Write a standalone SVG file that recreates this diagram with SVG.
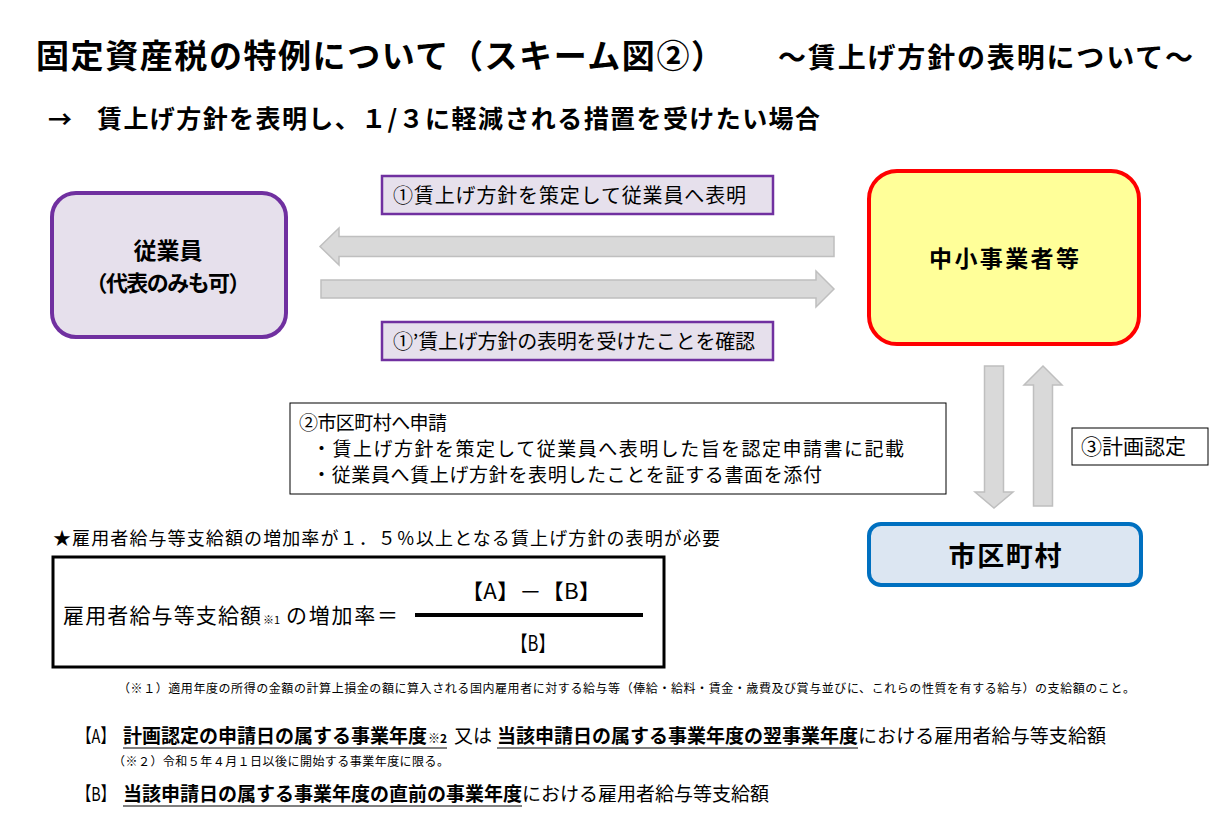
<svg xmlns="http://www.w3.org/2000/svg" width="1231" height="817" viewBox="0 0 1231 817">
<style>
text{font-family:"Noto Sans CJK JP","Noto Sans CJK SC",sans-serif;fill:#000}
.b{font-weight:700}
.arr{fill:#D9D9D9;stroke:#BFBFBF;stroke-width:1.5}
.lbl{fill:#E6E0EC;stroke:#7030A0;stroke-width:2.5}
.ul{stroke:#7F7F7F;stroke-width:2}
</style>
<rect width="1231" height="817" fill="#fff"/>
<g id="title">
<text x="36" y="68" class="b" font-size="33" textLength="688">固定資産税の特例について（スキーム図②）</text>
<text x="778" y="68" class="b" font-size="28" textLength="415">～賃上げ方針の表明について～</text>
<text x="48" y="128" class="b" font-size="24">→</text>
<text x="97" y="128" class="b" font-size="25" textLength="723">賃上げ方針を表明し、１/３に軽減される措置を受けたい場合</text>
</g>
<g id="node-employee">
<rect x="52" y="193" width="234" height="144" rx="24" fill="#E6E0EC" stroke="#7030A0" stroke-width="4"/>
<text x="168" y="259" class="b" font-size="23" text-anchor="middle">従業員</text>
<text x="168" y="291" class="b" font-size="22" text-anchor="middle" textLength="165">（代表のみも可）</text>
</g>
<g id="node-company">
<rect x="869" y="171" width="270" height="173" rx="28" fill="#FFFF99" stroke="#FF0000" stroke-width="4"/>
<text x="1004" y="267" class="b" font-size="23" text-anchor="middle" textLength="150">中小事業者等</text>
</g>
<g id="node-city">
<rect x="869" y="524" width="272" height="61" rx="12" fill="#DCE6F2" stroke="#0070C0" stroke-width="4"/>
<text x="1005" y="566" class="b" font-size="27" text-anchor="middle" textLength="113">市区町村</text>
</g>
<g id="connectors">
<path class="arr" d="M834,236.5 L339,236.5 L339,228 L320,246.5 L339,265 L339,256.5 L834,256.5 Z"/>
<path class="arr" d="M321,280 L816,280 L816,271 L834,289 L816,307 L816,298 L321,298 Z"/>
<path class="arr" d="M984.5,366 L1003.5,366 L1003.5,492 L1013,492 L994,508 L975,492 L984.5,492 Z"/>
<path class="arr" d="M1033.5,506 L1052.5,506 L1052.5,385 L1062,385 L1043,366 L1024,385 L1033.5,385 Z"/>
</g>
<g id="label-1">
<rect class="lbl" x="382" y="176" width="391" height="38"/>
<text x="393" y="203" font-size="20" textLength="353">①賃上げ方針を策定して従業員へ表明</text>
</g>
<g id="label-1b">
<rect class="lbl" x="382" y="322" width="391" height="38"/>
<text x="393" y="349" font-size="20" textLength="362">①’賃上げ方針の表明を受けたことを確認</text>
</g>
<g id="label-2">
<rect x="290" y="403" width="656" height="91" fill="#fff" stroke="#000" stroke-width="1"/>
<text x="299" y="430" font-size="19" textLength="148">②市区町村へ申請</text>
<text x="312" y="456" font-size="19" textLength="592">・賃上げ方針を策定して従業員へ表明した旨を認定申請書に記載</text>
<text x="312" y="482" font-size="19" textLength="510">・従業員へ賃上げ方針を表明したことを証する書面を添付</text>
</g>
<g id="label-3">
<rect x="1072" y="428" width="136" height="37" fill="#fff" stroke="#000" stroke-width="1"/>
<text x="1081" y="454" font-size="21">③計画認定</text>
</g>
<g id="formula">
<text x="53" y="545" font-size="18" textLength="667">★雇用者給与等支給額の増加率が１．５％以上となる賃上げ方針の表明が必要</text>
<rect x="53" y="557" width="611" height="110" fill="#fff" stroke="#000" stroke-width="3"/>
<text x="63" y="623" font-size="21" textLength="198">雇用者給与等支給額</text>
<text x="263" y="624" font-size="11">※1</text>
<text x="286" y="623" font-size="21" textLength="112">の増加率＝</text>
<line x1="415" y1="615" x2="643" y2="615" stroke="#000" stroke-width="4"/>
<text x="531" y="599" font-size="21" text-anchor="middle" textLength="140" lengthAdjust="spacingAndGlyphs">【A】－【B】</text>
<text x="533" y="651" font-size="21" text-anchor="middle" textLength="44" lengthAdjust="spacingAndGlyphs">【B】</text>
</g>
<g id="notes">
<text x="118" y="693" font-size="12" textLength="1017" fill="#222">（※１）適用年度の所得の金額の計算上損金の額に算入される国内雇用者に対する給与等（俸給・給料・賃金・歳費及び賞与並びに、これらの性質を有する給与）の支給額のこと。</text>
<text x="77" y="743" font-size="19" textLength="38" lengthAdjust="spacingAndGlyphs">【A】</text>
<text x="123" y="743" class="b" font-size="19" textLength="304">計画認定の申請日の属する事業年度</text>
<text x="428" y="743" class="b" font-size="12">※2</text>
<text x="454" y="743" font-size="19" textLength="38">又は</text>
<text x="497" y="743" class="b" font-size="19" textLength="361">当該申請日の属する事業年度の翌事業年度</text>
<text x="858" y="743" font-size="19" textLength="248" fill="#222">における雇用者給与等支給額</text>
<line class="ul" x1="123" y1="748" x2="447" y2="748"/>
<line class="ul" x1="497" y1="748" x2="858" y2="748"/>
<text x="113" y="766" font-size="12" textLength="336" fill="#222">（※２）令和５年４月１日以後に開始する事業年度に限る。</text>
<text x="77" y="801" font-size="19" textLength="38" lengthAdjust="spacingAndGlyphs">【B】</text>
<text x="123" y="801" class="b" font-size="19" textLength="399">当該申請日の属する事業年度の直前の事業年度</text>
<text x="522" y="801" font-size="19" textLength="247" fill="#222">における雇用者給与等支給額</text>
<line class="ul" x1="123" y1="806" x2="522" y2="806"/>
</g>
</svg>
